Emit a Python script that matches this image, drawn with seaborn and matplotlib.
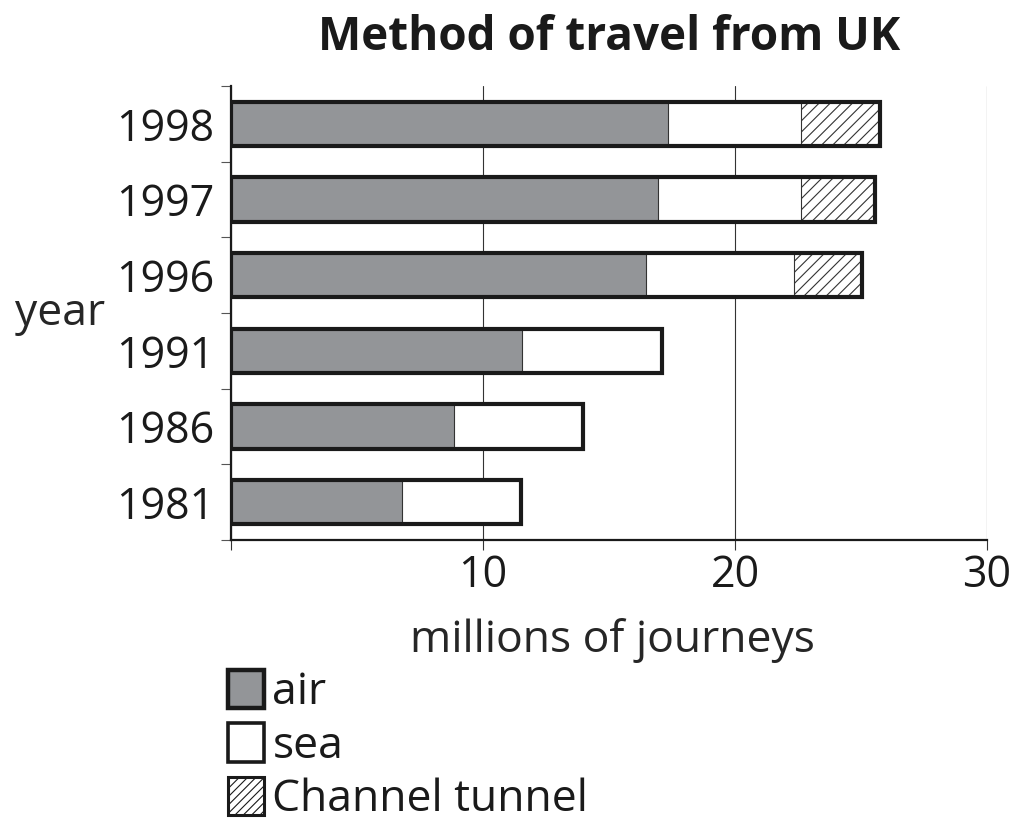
import matplotlib
matplotlib.use("Agg")
import pandas as pd
import matplotlib.pyplot as plt
import seaborn as sns
from matplotlib.patches import Patch

# data (millions of journeys)
years = ["1998", "1997", "1996", "1991", "1986", "1981"]
air = [17.35, 16.95, 16.45, 11.55, 8.85, 6.8]
sea = [5.25, 5.65, 5.9, 5.55, 5.1, 4.7]
tunnel = [3.15, 2.95, 2.7, 0, 0, 0]

x_ticks = [0, 10, 20, 30]
x_labels = ["", "10", "20", "30"]
legend_labels = ["air", "sea", "Channel tunnel"]

df = pd.DataFrame({"year": years, "air": air, "sea": sea, "tunnel": tunnel})
df["air_sea"] = df["air"] + df["sea"]
df["total"] = df["air_sea"] + df["tunnel"]

sns.set_style("white")
plt.rcParams["font.family"] = ["Open Sans", "DejaVu Sans"]
plt.rcParams["hatch.linewidth"] = 0.8
plt.rcParams["text.color"] = "#1a1a1a"

air_col = "#939598"
dark = "#1a1a1a"
bar_w = 0.59

fig = plt.figure(figsize=(10.22, 8.22), dpi=100)
ax = fig.add_axes([231 / 1022, 1 - 540 / 822, 756 / 1022, 454 / 822])

# stacked bars drawn as cumulative layers, back to front
common = dict(y="year", order=years, width=bar_w, errorbar=None, saturation=1, ax=ax)
sns.barplot(data=df, x="total", color="white", hatch="///", edgecolor="#333333", linewidth=0.8, **common)
sns.barplot(data=df, x="air_sea", color="white", edgecolor="#333333", linewidth=0.8, **common)
sns.barplot(data=df, x="air", color=air_col, edgecolor="#333333", linewidth=0.8, **common)
# heavy outline round each whole bar
sns.barplot(data=df, x="total", color=dark, fill=False, linewidth=3.0, **common)

ax.set_xlim(0, 30)
ax.set_ylim(5.5, -0.5)
ax.set_xticks(x_ticks, x_labels)
ax.set_yticks(range(len(years)), years)
ax.set_yticks([i - 0.5 for i in range(len(years) + 1)], minor=True)

ax.tick_params(axis="x", bottom=True, length=7.2, width=0.8, color="#333333",
               labelsize=31, pad=2.5, labelcolor=dark)
ax.tick_params(axis="y", which="major", left=True, length=0, pad=12,
               labelsize=31, labelcolor=dark)
ax.tick_params(axis="y", which="minor", left=True, length=7.2, width=0.8, color="#555555")

ax.grid(axis="x", color="#333333", linewidth=0.8)
ax.set_axisbelow(True)
sns.despine(ax=ax, top=True, right=True)
for side in ["left", "bottom"]:
    ax.spines[side].set_color(dark)
    ax.spines[side].set_linewidth(1.6)

ax.set_title("Method of travel from UK", fontsize=33, fontweight="bold", y=1.079, pad=0)
ax.set_xlabel("millions of journeys", fontsize=32)
ax.xaxis.set_label_coords(0.504, -0.246)
ax.xaxis.label.set_va("baseline")
ax.set_ylabel("year", fontsize=32, rotation=0, ha="left", va="baseline")
ax.yaxis.set_label_coords(-0.2857, 0.4736)

handles = [
    Patch(facecolor=air_col, edgecolor=dark, linewidth=3.2),
    Patch(facecolor="white", edgecolor=dark, linewidth=2.6),
    Patch(facecolor="white", edgecolor=dark, linewidth=2.2, hatch="////"),
]
fig.legend(handles, legend_labels, loc="upper left", bbox_to_anchor=(228 / 1022, 1 - 670 / 822),
           frameon=False, fontsize=32, handlelength=0.8, handleheight=0.95,
           handletextpad=0.2, labelspacing=0.18, borderpad=0, borderaxespad=0)

fig.savefig("out.png", dpi=100)
